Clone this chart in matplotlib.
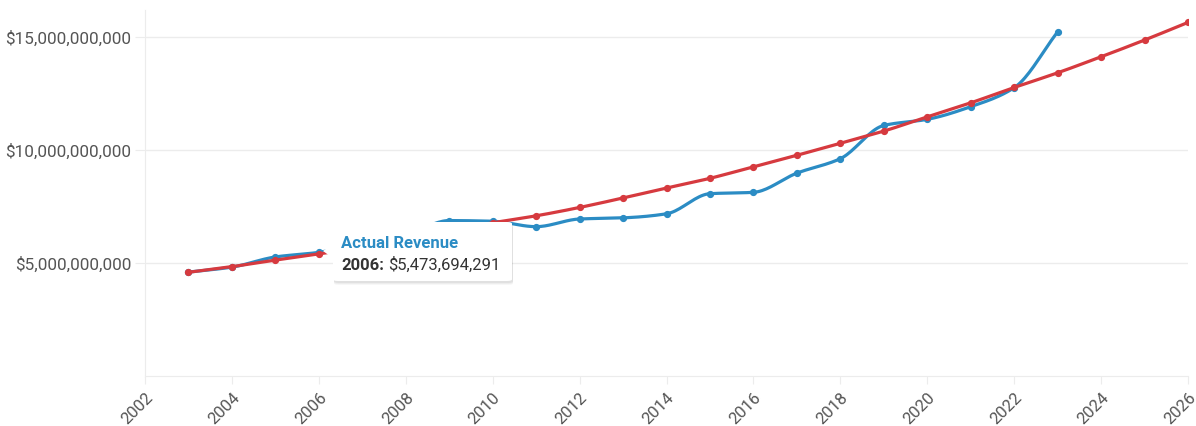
"""Actual vs. trend revenue chart, 2003-2026."""

import matplotlib
matplotlib.use("Agg")
import matplotlib.pyplot as plt
import numpy as np
from matplotlib.patches import FancyBboxPatch, Polygon
from matplotlib.ticker import FuncFormatter

plt.rcParams["font.family"] = ["Roboto", "DejaVu Sans"]

# ---- data ----
actual_years = list(range(2003, 2024))
actual_revenue = [4.60e9, 4.82e9, 5.27e9, 5.473694291e9, 5.90e9, 6.25e9, 6.88e9,
                  6.85e9, 6.61e9, 6.95e9, 7.00e9, 7.18e9, 8.07e9, 8.13e9,
                  8.98e9, 9.62e9, 11.09e9, 11.36e9, 11.92e9, 12.76e9, 15.23e9]

trend_years = list(range(2003, 2027))
trend_revenue = [4.59e9, 4.84e9, 5.13e9, 5.40e9, 5.72e9, 6.06e9, 6.41e9, 6.78e9,
                 7.09e9, 7.46e9, 7.88e9, 8.32e9, 8.75e9, 9.26e9, 9.77e9, 10.30e9,
                 10.84e9, 11.47e9, 12.09e9, 12.77e9, 13.42e9, 14.13e9, 14.87e9,
                 15.65e9]

x_ticks = list(range(2002, 2027, 2))
y_ticks = [5e9, 10e9, 15e9]

tooltip_series = "Actual Revenue"
tooltip_year = 2006

BLUE = "#2b8cc4"
RED = "#d63a3f"
GRID = "#ececec"
TEXT = "#555555"


def smooth(x, y, n=20):
    """Monotone cubic (Fritsch-Carlson) curve through the points, for drawing."""
    x = np.asarray(x, float)
    y = np.asarray(y, float)
    h = np.diff(x)
    d = np.diff(y) / h
    m = np.zeros_like(y)
    m[0], m[-1] = d[0], d[-1]
    for i in range(1, len(y) - 1):
        if d[i - 1] * d[i] > 0:
            m[i] = 2 / (1 / d[i - 1] + 1 / d[i])
    xs, ys = [], []
    for i in range(len(x) - 1):
        t = np.linspace(0, 1, n, endpoint=False)
        h00 = 2 * t**3 - 3 * t**2 + 1
        h10 = t**3 - 2 * t**2 + t
        h01 = -2 * t**3 + 3 * t**2
        h11 = t**3 - t**2
        xs.append(x[i] + t * h[i])
        ys.append(h00 * y[i] + h10 * h[i] * m[i] + h01 * y[i + 1] + h11 * h[i] * m[i + 1])
    xs.append([x[-1]])
    ys.append([y[-1]])
    return np.concatenate(xs), np.concatenate(ys)


W, H = 1196, 426
fig = plt.figure(figsize=(W / 100, H / 100), dpi=100)
ax = fig.add_axes([145 / W, 1 - 376 / H, (1188 - 145) / W, (376 - 10) / H])

ax.set_xlim(2002, 2026)
ax.set_ylim(0, 16.2e9)

for yrs, vals, col, z in [(actual_years, actual_revenue, BLUE, 3),
                          (trend_years, trend_revenue, RED, 4)]:
    sx, sy = smooth(yrs, vals)
    ax.plot(sx, sy, color=col, lw=2.3, zorder=z, solid_capstyle="round")
    ax.plot(yrs, vals, "o", color=col, ms=4.2, zorder=z)

ax.set_xticks(x_ticks)
ax.set_yticks(y_ticks)
ax.yaxis.set_major_formatter(FuncFormatter(lambda v, _: f"${v:,.0f}"))
ax.grid(axis="y", color=GRID, lw=1)
ax.set_axisbelow(True)
for side in ("top", "right"):
    ax.spines[side].set_visible(False)
for side in ("left", "bottom"):
    ax.spines[side].set_color(GRID)
ax.tick_params(axis="y", length=7, color=GRID, pad=3, labelsize=12.3, labelcolor=TEXT)
ax.tick_params(axis="x", length=6, color=GRID, pad=4, labelsize=12, labelcolor=TEXT)
for lbl in ax.get_xticklabels():
    lbl.set_rotation(45)
    lbl.set_ha("right")
    lbl.set_va("top")
    lbl.set_rotation_mode("anchor")


# ---- tooltip (figure pixel coordinates) ----
def fx(px):
    return px / W


def fy(py):
    return 1 - py / H


x0, x1, y0, y1 = 333, 512, 222, 281
for k, a in enumerate([0.05, 0.04, 0.03]):
    off = 2 + k
    fig.patches.append(FancyBboxPatch(
        (fx(x0 + 1), fy(y1 + off)), fx(x1 - x0), (y1 - y0) / H,
        boxstyle="round,pad=0,rounding_size=0.004", transform=fig.transFigure,
        facecolor="black", edgecolor="none", alpha=a, zorder=9))
fig.patches.append(FancyBboxPatch(
    (fx(x0), fy(y1)), fx(x1 - x0), (y1 - y0) / H,
    boxstyle="round,pad=0,rounding_size=0.004", transform=fig.transFigure,
    facecolor="white", edgecolor="none", zorder=10))
fig.patches.append(Polygon(
    [(fx(x0 + 1), fy(243)), (fx(323), fy(251)), (fx(x0 + 1), fy(259))],
    closed=True, transform=fig.transFigure, facecolor="white",
    edgecolor="none", zorder=10))

value = actual_revenue[actual_years.index(tooltip_year)]
fig.text(fx(341), fy(248), tooltip_series, color=BLUE, fontsize=12,
         fontweight="bold", zorder=11)
t1 = fig.text(fx(341), fy(270), f"{tooltip_year}:", color="#333333",
              fontsize=12, fontweight="bold", zorder=11)
fig.canvas.draw()
bb = t1.get_window_extent()
fig.text(bb.x1 / W + fx(4), fy(270), f"${value:,.0f}", color="#333333",
         fontsize=12, zorder=11)

fig.savefig("out.png", dpi=100)
